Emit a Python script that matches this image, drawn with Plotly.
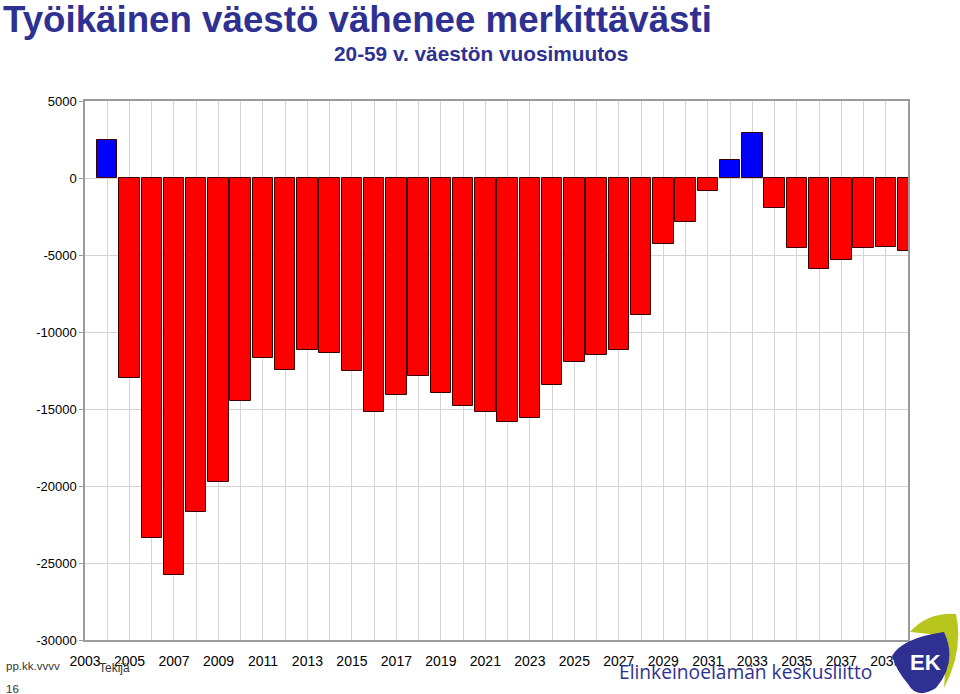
import plotly.graph_objects as go

years = list(range(2004, 2041))
values = [2500, -12970, -23400, -25770, -21680, -19750, -14510, -11660, -12450, -11200,
          -11350, -12560, -15210, -14100, -12840, -13950, -14820, -15180, -15830, -15570,
          -13430, -11940, -11480, -11140, -8880, -4270, -2870, -860, 1140, 2910,
          -1940, -4530, -5900, -5310, -4530, -4470, -4710]
tick_years = list(range(2003, 2040, 2))
tick_labels = [str(y) for y in tick_years]
y_ticks = [5000, 0, -5000, -10000, -15000, -20000, -25000, -30000]

W, H = 960, 694
L, R, T, B = 85, 908, 101, 640
FONT = "Arial, Liberation Sans, sans-serif"
DARKBLUE = "#2E3192"


def px(x):
    return (x - L) / (R - L)


def py(y):
    return (B - y) / (B - T)


def path(cmds):
    out = []
    for c in cmds:
        if isinstance(c, str):
            out.append(c)
        else:
            out.append(f"{px(c[0]):.5f},{py(c[1]):.5f}")
    return " ".join(out)


colors = ["#0000FF" if v > 0 else "#FF0000" for v in values]

fig = go.Figure(go.Bar(
    x=years, y=values, width=0.92,
    marker=dict(color=colors, line=dict(color="#3a0000", width=1)),
    hoverinfo="x+y",
))

fig.update_layout(
    width=W, height=H,
    margin=dict(l=L, r=W - R, t=T, b=H - B),
    paper_bgcolor="white", plot_bgcolor="white",
    showlegend=False,
    font=dict(family=FONT, size=13, color="black"),
    bargap=0,
)

fig.update_xaxes(
    range=[2003, 2040],
    tickmode="array", tickvals=tick_years, ticktext=tick_labels,
    tickfont=dict(size=14), ticks="", ticklen=0, ticklabelstandoff=7,
    showgrid=True, gridcolor="#D4D4D4", gridwidth=1,
    minor=dict(tick0=2003, dtick=1, showgrid=True, gridcolor="#D4D4D4", gridwidth=1),
    showline=True, linecolor="#9A9A9A", linewidth=1.5, mirror=True,
    zeroline=False,
)
fig.update_yaxes(
    range=[-30000, 5000],
    tickmode="array", tickvals=y_ticks, ticktext=[str(v) for v in y_ticks],
    tickfont=dict(size=13), ticks="outside", ticklen=4, tickcolor="#9A9A9A",
    showgrid=True, gridcolor="#D4D4D4", gridwidth=1,
    showline=True, linecolor="#9A9A9A", linewidth=1.5, mirror=True,
    zeroline=False,
)

ann = []
ann.append(dict(text="<b>Työikäinen väestö vähenee merkittävästi</b>", x=px(1), y=py(19),
                xanchor="left", yanchor="middle", font=dict(size=36.7, color=DARKBLUE, family=FONT)))
ann.append(dict(text="<b>20-59 v. väestön vuosimuutos</b>", x=px(481), y=py(53),
                xanchor="center", yanchor="middle", font=dict(size=20.8, color=DARKBLUE, family=FONT)))
ann.append(dict(text="pp.kk.vvvv", x=px(4), y=py(666), xanchor="left", yanchor="middle",
                font=dict(size=11.5, color="#333333")))
ann.append(dict(text="16", x=px(4), y=py(689), xanchor="left", yanchor="middle",
                font=dict(size=11.5, color="#333333")))
ann.append(dict(text="Tekijä", x=px(97), y=py(668), xanchor="left", yanchor="middle",
                font=dict(size=12, color="#333333")))
ann.append(dict(text="Elinkeinoelämän keskusliitto", x=px(617), y=py(671), xanchor="left", yanchor="middle",
                font=dict(size=19.2, color=DARKBLUE, family="Open Sans, sans-serif")))
ann.append(dict(text="<b>EK</b>", x=px(925), y=py(662), xanchor="center", yanchor="middle",
                font=dict(size=22, color="white", family=FONT)))
for a in ann:
    a.update(xref="paper", yref="paper", showarrow=False)
fig.update_layout(annotations=ann)

yellow = path(["M", (910, 632), "Q", (928, 612), (956, 614), "Q", (964, 650), (944, 688),
               "Q", (948, 645), (930, 634), "Z"])
blue = path(["M", (892, 656), "Q", (902, 638), (944, 632), "Q", (958, 662), (936, 688),
             "Q", (917, 700), (908, 684), "Q", (896, 670), (892, 656), "Z"])
fig.update_layout(shapes=[
    dict(type="path", path=yellow, xref="paper", yref="paper", fillcolor="#B8C51C", line=dict(width=0), layer="above"),
    dict(type="path", path=blue, xref="paper", yref="paper", fillcolor="#2E3192", line=dict(width=0), layer="above"),
])

fig.write_html("out.html")
